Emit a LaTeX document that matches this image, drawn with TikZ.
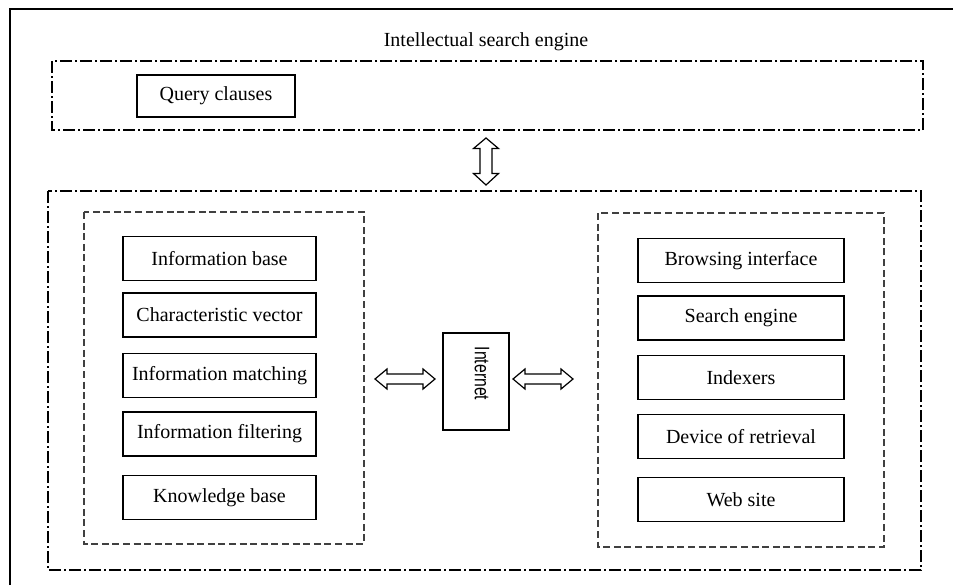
\documentclass[tikz,border=0pt]{standalone}
\usepackage{fontspec}
\setmainfont{Liberation Serif}
\newfontfamily\sansint{Liberation Sans}
\usetikzlibrary{calc}
\tikzset{
  px/.style={x=0.5pt,y=-0.5pt},
  box/.style={draw, line width=0.6pt, inner sep=0pt, font=\fontsize{10}{12}\selectfont},
  lbox/.style={box, minimum width=96.5pt, minimum height=22pt},
  rbox/.style={box, minimum width=103pt, minimum height=22pt},
  dashdotbox/.style={line width=0.9pt, dash pattern=on 6pt off 1.5pt on 1pt off 1.5pt},
  dashbox/.style={line width=0.55pt, draw=black!75, dash pattern=on 3.5pt off 1.8pt},
  blockarrow/.style={draw, fill=white, line width=0.6pt, line join=miter},
}
\begin{document}
\begin{tikzpicture}[px]
\useasboundingbox (0,0) rectangle (953,585);
% outer frame (top and left edges)
\draw[line width=0.7pt] (10,585) -- (10,9) -- (953,9);
% title
\node[font=\fontsize{10}{12}\selectfont] (title) at (486,42) {Intellectual search engine};
% containers
\draw[dashdotbox] (52,61) rectangle (923,130);
\draw[dashdotbox] (48,191) rectangle (921,570);
\draw[dashbox] (84,212) rectangle (364,544);
\draw[dashbox] (598,213) rectangle (884,547);
% query
\node[box, minimum width=79pt, minimum height=21pt] (query) at (216,96) {Query clauses};
% left column
\node[lbox] (ib) at (219.5,258.5) {Information base};
\node[lbox] (cv) at (219.5,315) {Characteristic vector};
\node[lbox] (im) at (219.5,375.5) {Information matching};
\node[lbox] (if) at (219.5,434) {Information filtering};
\node[lbox] (kb) at (219.5,497.5) {Knowledge base};
% right column
\node[rbox] (bi) at (741,260.5) {Browsing interface};
\node[rbox] (se) at (741,318) {Search engine};
\node[rbox] (ix) at (741,377.5) {Indexers};
\node[rbox] (dr) at (741,436.5) {Device of retrieval};
\node[rbox] (ws) at (741,499.5) {Web site};
% internet
\node[draw, line width=0.6pt, minimum width=33pt, minimum height=48.5pt, inner sep=0pt] (inet) at (476,381.5) {};
\node[rotate=-90, font=\sansint\fontsize{10.5}{12}\selectfont, inner sep=0pt] (inettext) at ($(inet.center)+(6,-8)$) {\scalebox{0.75}[1]{Internet}};
% block arrows
\coordinate (va) at (486,161.5);
\coordinate (la) at (405,379);
\coordinate (ra) at (543,379);
\draw[blockarrow, shift={(va)}] (0,-23.5) -- (12.5,-13) -- (6,-13) -- (6,12) -- (12.5,12) -- (0,23.5) -- (-12.5,12) -- (-6,12) -- (-6,-13) -- (-12.5,-13) -- cycle;
\draw[blockarrow, shift={(la)}] (-30,0) -- (-18,-10) -- (-18,-5) -- (18,-5) -- (18,-10) -- (30,0) -- (18,10) -- (18,5) -- (-18,5) -- (-18,10) -- cycle;
\draw[blockarrow, shift={(ra)}] (-30,0) -- (-18,-10) -- (-18,-5) -- (18,-5) -- (18,-10) -- (30,0) -- (18,10) -- (18,5) -- (-18,5) -- (-18,10) -- cycle;
\end{tikzpicture}
\end{document}
